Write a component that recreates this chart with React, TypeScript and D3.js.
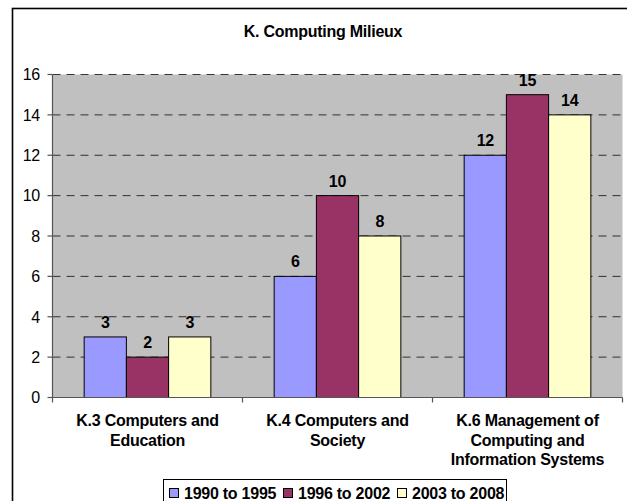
import React from 'react';
import * as d3 from 'd3';

// data
const categories = [
  'K.3 Computers and\nEducation',
  'K.4 Computers and\nSociety',
  'K.6 Management of\nComputing and\nInformation Systems',
];
const series = ['1990 to 1995', '1996 to 2002', '2003 to 2008'];
const values1990 = [3, 6, 12];
const values1996 = [2, 10, 15];
const values2003 = [3, 8, 14];
const yTicks = [0, 2, 4, 6, 8, 10, 12, 14, 16];
const colors = ['#9999FF', '#993366', '#FFFFCC'];

const title = 'K. Computing Milieux';

export default function App() {
  const W = 627;
  const H = 501;
  const plot = { left: 52.5, right: 622.5, top: 74.5, bottom: 397.5 };
  const font = '"Liberation Sans", Arial, sans-serif';
  const fs = 16;
  const ls = -0.25; // tighten a bit, the original face is narrower

  const allValues = [values1990, values1996, values2003];

  const x0 = d3
    .scaleBand<string>()
    .domain(categories)
    .range([plot.left, plot.right])
    .padding(0);

  const x1 = d3
    .scaleBand<string>()
    .domain(series)
    .range([0, x0.bandwidth()])
    .paddingInner(0)
    .paddingOuter(0.75);

  const y = d3
    .scaleLinear()
    .domain([0, 16])
    .range([plot.bottom, plot.top]);

  // legend layout
  const legendX = 163.5;
  const legendY = 479.5;
  const legendStep = 114;

  return (
    <svg
      width={W}
      height={H}
      style={{ position: 'absolute', left: 0, top: 0, display: 'block', background: '#fff' }}
      fontFamily={font}
    >
      {/* outer chart border (cropped on right/bottom) */}
      <rect x={12.5} y={8.5} width={W + 20} height={H + 20} fill="#fff" stroke="#000" strokeWidth={1.6} />

      <text x={323} y={36.5} textAnchor="middle" fontWeight="bold" fontSize={fs} letterSpacing={ls} fill="#000">
        {title}
      </text>

      {/* plot area */}
      <rect
        x={plot.left}
        y={plot.top}
        width={plot.right - plot.left}
        height={plot.bottom - plot.top}
        fill="#C0C0C0"
      />

      {/* gridlines */}
      {yTicks.filter(t => t > 0).map(t => (
        <line
          key={t}
          x1={plot.left}
          x2={plot.right}
          y1={y(t)}
          y2={y(t)}
          stroke="#000"
          strokeWidth={1}
          strokeDasharray="8 6"
          opacity={0.75}
        />
      ))}

      {/* bars */}
      {categories.map((c, ci) => (
        <g key={c} transform={`translate(${x0(c)},0)`}>
          {series.map((s, si) => {
            const v = allValues[si][ci];
            const bx = x1(s)!;
            return (
              <g key={s}>
                <rect
                  x={bx}
                  y={y(v)}
                  width={x1.bandwidth()}
                  height={y(0) - y(v)}
                  fill={colors[si]}
                  stroke="#000"
                  strokeWidth={1}
                />
                <text
                  x={bx + x1.bandwidth() / 2}
                  y={y(v) - 9}
                  textAnchor="middle"
                  fontWeight="bold"
                  fontSize={fs}
                  letterSpacing={ls}
                  fill="#000"
                >
                  {v}
                </text>
              </g>
            );
          })}
        </g>
      ))}

      {/* y axis */}
      <line x1={plot.left} x2={plot.left} y1={plot.top} y2={plot.bottom} stroke="#555" strokeWidth={1.2} />
      {yTicks.map(t => (
        <g key={t} transform={`translate(0,${y(t)})`}>
          <line x1={plot.left - 5} x2={plot.left} stroke="#555" strokeWidth={1.2} />
          <text x={40} dy="0.36em" textAnchor="end" fontSize={fs} letterSpacing={ls} fill="#000">
            {t}
          </text>
        </g>
      ))}

      {/* x axis */}
      <line x1={plot.left} x2={plot.right} y1={plot.bottom} y2={plot.bottom} stroke="#555" strokeWidth={1.2} />
      {[...categories.map(c => x0(c)!), plot.right].map((tx, i) => (
        <line key={i} x1={tx} x2={tx} y1={plot.bottom} y2={plot.bottom + 5} stroke="#555" strokeWidth={1.2} />
      ))}
      {categories.map(c => (
        <text
          key={c}
          x={x0(c)! + x0.bandwidth() / 2}
          y={426}
          textAnchor="middle"
          fontWeight="bold"
          fontSize={fs}
          letterSpacing={ls}
          fill="#000"
        >
          {c.split('\n').map((line, li) => (
            <tspan key={li} x={x0(c)! + x0.bandwidth() / 2} dy={li === 0 ? 0 : 19.5}>
              {line}
            </tspan>
          ))}
        </text>
      ))}

      {/* legend */}
      <rect x={legendX} y={legendY} width={343} height={40} fill="#fff" stroke="#000" strokeWidth={1} />
      {series.map((s, i) => (
        <g key={s} transform={`translate(${legendX + 6 + i * legendStep},${legendY})`}>
          <rect x={0} y={9} width={9} height={9} fill={colors[i]} stroke="#000" strokeWidth={1} />
          <text x={14.5} y={19.8} fontWeight="bold" fontSize={fs} letterSpacing={ls} fill="#000">
            {s}
          </text>
        </g>
      ))}
    </svg>
  );
}
